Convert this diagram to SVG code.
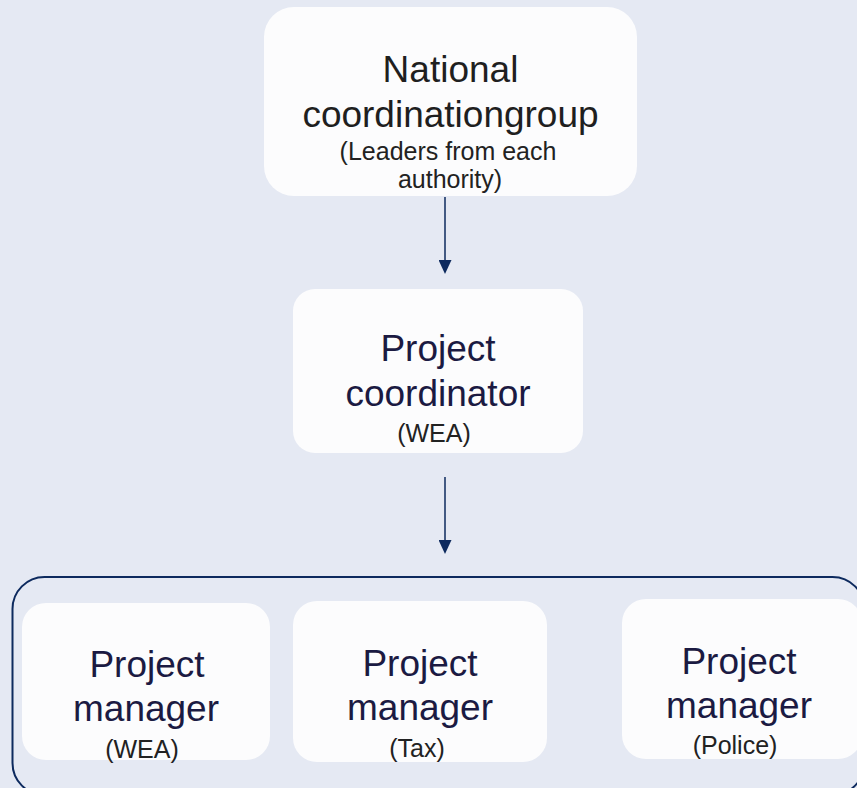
<svg xmlns="http://www.w3.org/2000/svg" width="857" height="788" viewBox="0 0 857 788">
<defs>
<style>
.node{fill:#fcfcfd;}
.big{font-family:"Liberation Sans",Arial,sans-serif;font-size:37px;fill:#1b1a42;text-anchor:middle;}
.top{fill:#1f1f1f;}
.small{font-family:"Liberation Sans",Arial,sans-serif;font-size:25px;fill:#222222;text-anchor:middle;}
.conn{stroke:#0d2a5e;stroke-width:1.5;fill:none;}
</style>
<marker id="ah" markerWidth="14" markerHeight="13" refX="0" refY="6.5" orient="auto" markerUnits="userSpaceOnUse" viewBox="0 0 14 13">
<path d="M0,0 L14,6.5 L0,13 Z" fill="#0d2a5e"/>
</marker>
</defs>
<rect x="0" y="0" width="857" height="788" fill="#e5e9f3"/>
<g id="group-container">
<rect x="12.5" y="577" width="852" height="218" rx="32" ry="32" fill="none" stroke="#0d2a5e" stroke-width="2"/>
</g>
<g id="connectors">
<path class="conn" d="M445,197 L445,260" marker-end="url(#ah)"/>
<path class="conn" d="M445,477 L445,540" marker-end="url(#ah)"/>
</g>
<g id="national">
<rect class="node" x="264" y="7" width="373" height="189" rx="30" ry="30"/>
<text class="big top" x="450.5" y="82">National</text>
<text class="big top" x="450.5" y="127">coordinationgroup</text>
<text class="small" x="448" y="160">(Leaders from each</text>
<text class="small" x="450" y="188">authority)</text>
</g>
<g id="coordinator">
<rect class="node" x="293" y="289" width="290" height="164" rx="22" ry="22"/>
<text class="big" x="438" y="361">Project</text>
<text class="big" x="438" y="406">coordinator</text>
<text class="small" x="434" y="442">(WEA)</text>
</g>
<g id="pm-wea">
<rect class="node" x="22" y="603" width="248" height="157" rx="24" ry="24"/>
<text class="big" x="147" y="677">Project</text>
<text class="big" x="146" y="721">manager</text>
<text class="small" x="142" y="758">(WEA)</text>
</g>
<g id="pm-tax">
<rect class="node" x="293" y="601" width="254" height="161" rx="24" ry="24"/>
<text class="big" x="420" y="676">Project</text>
<text class="big" x="420" y="720">manager</text>
<text class="small" x="417" y="757">(Tax)</text>
</g>
<g id="pm-police">
<rect class="node" x="622" y="599" width="240" height="160" rx="24" ry="24"/>
<text class="big" x="739" y="674">Project</text>
<text class="big" x="739" y="718">manager</text>
<text class="small" x="735" y="754">(Police)</text>
</g>
</svg>
